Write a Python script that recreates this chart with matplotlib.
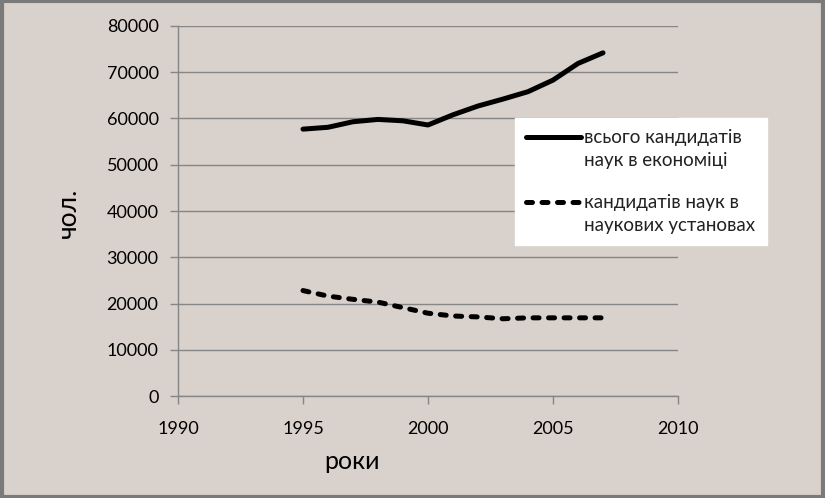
import numpy as np
import matplotlib.pyplot as plt
from matplotlib.patches import Rectangle
from matplotlib.lines import Line2D

# дані
roky = [1995, 1996, 1997, 1998, 1999, 2000, 2001, 2002, 2003, 2004, 2005, 2006, 2007]
vsogo = [57700, 58100, 59300, 59800, 59500, 58600, 60800, 62700, 64200, 65800, 68300, 71900, 74200]
ustanovy = [22800, 21600, 20900, 20300, 19100, 17900, 17300, 17100, 16700, 16900, 16900, 16900, 16900]
nazvy = ['всього кандидатів\nнаук в економіці', 'кандидатів наук в\nнаукових установах']
xticks = [1990, 1995, 2000, 2005, 2010]
yticks = [0, 10000, 20000, 30000, 40000, 50000, 60000, 70000, 80000]

fon = '#d9d1cb'
sirij = '#868686'
plt.rcParams['font.family'] = ['Lato', 'DejaVu Sans']

fig = plt.figure(figsize=(8.25, 4.98), dpi=100, facecolor=fon)
ax = fig.add_axes([178/825, 1-396/498, 500/825, 370/498])
ax.set_facecolor(fon)

l1, = ax.plot(roky, vsogo, color='black', lw=3.6, solid_capstyle='round',
              solid_joinstyle='round')
l2, = ax.plot(roky, ustanovy, color='black', lw=3.6, ls=(0, (1.2, 1.9)),
              dash_capstyle='round')

ax.set_xlim(1990, 2010)
ax.set_ylim(0, 80000)
ax.set_xticks(xticks)
ax.set_yticks(yticks)
ax.yaxis.grid(True, color=sirij, lw=1)
ax.set_axisbelow(True)
for s in ['top', 'right']:
    ax.spines[s].set_visible(False)
for s in ['left', 'bottom']:
    ax.spines[s].set_color(sirij)
    ax.spines[s].set_linewidth(1)
ax.tick_params(axis='both', colors=sirij, labelcolor='black', labelsize=13,
               length=6, width=1)
ax.tick_params(axis='y', pad=8)
ax.tick_params(axis='x', pad=12)

ax.set_xlabel('роки', fontsize=18)
ax.xaxis.set_label_coords(0.348, -0.146)
ax.set_ylabel('чол.', fontsize=19)
ax.yaxis.set_label_coords(-0.195, 0.495)

# легенда: маркер біля першого рядка підпису, як в Excel
pusto = Line2D([], [], color='none')
r1 = nazvy[0].split('\n')
r2 = nazvy[1].split('\n')
leg = ax.legend([l1, pusto, pusto, l2, pusto], [r1[0], r1[1], ' ', r2[0], r2[1]],
                loc='upper left', bbox_to_anchor=(337/500, 1-92/370), fontsize=13.5,
                frameon=True, fancybox=False, handlelength=2.9, handletextpad=0.2,
                labelspacing=0.3, borderpad=0.6, borderaxespad=0)
leg.get_frame().set_facecolor('white')
leg.get_frame().set_edgecolor('white')
leg.get_frame().set_alpha(1)
for t in leg.get_texts():
    t.set_color('#222222')
leg.get_texts()[2].set_fontsize(4)

# рамка навколо рисунка
fig.patches.append(Rectangle((0.002, 0.003), 0.995, 0.994, transform=fig.transFigure,
                             fill=False, edgecolor='#7a7a7a', lw=3))

fig.savefig('out.png', dpi=100, facecolor=fon)
